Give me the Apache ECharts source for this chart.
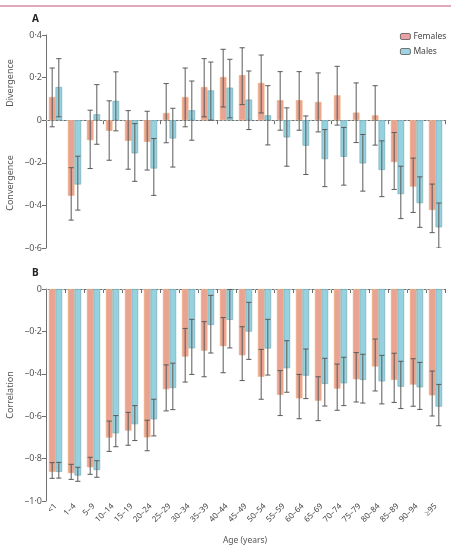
<!DOCTYPE html>
<html><head><meta charset="utf-8">
<script src="https://cdn.jsdelivr.net/npm/echarts@6/dist/echarts.min.js"></script>
<style>html,body{margin:0;padding:0;background:#fff}#c{width:451px;height:548px}</style>
</head><body><div id="c"></div>
<script>
const categories = ['<1','1–4','5–9','10–14','15–19','20–24','25–29','30–34','35–39','40–44','45–49','50–54','55–59','60–64','65–69','70–74','75–79','80–84','85–89','90–94','≥95'];

// Panel A: divergence / convergence
const femA    = [0.109,-0.355,-0.094,-0.05,-0.097,-0.102,0.034,0.109,0.156,0.203,0.212,0.175,0.094,0.094,0.086,0.117,0.036,0.023,-0.197,-0.312,-0.422];
const femALo  = [-0.031,-0.469,-0.227,-0.188,-0.23,-0.234,-0.106,-0.031,0.016,0.062,0.073,0.034,-0.047,-0.047,-0.055,-0.023,-0.105,-0.117,-0.325,-0.433,-0.528];
const femAHi  = [0.245,-0.223,0.047,0.091,0.045,0.042,0.172,0.245,0.289,0.333,0.34,0.306,0.228,0.228,0.222,0.253,0.175,0.162,-0.058,-0.178,-0.3];
const malA    = [0.156,-0.302,0.028,0.091,-0.156,-0.227,-0.086,0.047,0.14,0.153,0.097,0.023,-0.081,-0.12,-0.183,-0.172,-0.203,-0.234,-0.347,-0.39,-0.503];
const malALo  = [0.016,-0.422,-0.113,-0.05,-0.287,-0.353,-0.22,-0.094,0,0.011,-0.044,-0.116,-0.216,-0.255,-0.312,-0.305,-0.333,-0.359,-0.462,-0.503,-0.6];
const malAHi  = [0.289,-0.169,0.167,0.227,-0.016,-0.086,0.056,0.184,0.273,0.286,0.231,0.162,0.058,0.02,-0.044,-0.034,-0.067,-0.097,-0.216,-0.266,-0.389];

// Panel B: correlation
const femB    = [-0.863,-0.869,-0.841,-0.701,-0.668,-0.70,-0.473,-0.319,-0.291,-0.27,-0.313,-0.414,-0.50,-0.516,-0.527,-0.47,-0.426,-0.366,-0.429,-0.451,-0.502];
const femBLo  = [-0.893,-0.898,-0.874,-0.766,-0.737,-0.763,-0.575,-0.439,-0.414,-0.395,-0.432,-0.52,-0.597,-0.612,-0.621,-0.572,-0.533,-0.481,-0.535,-0.553,-0.599];
const femBHi  = [-0.819,-0.827,-0.794,-0.623,-0.582,-0.619,-0.358,-0.186,-0.154,-0.135,-0.178,-0.285,-0.385,-0.403,-0.414,-0.354,-0.30,-0.236,-0.303,-0.329,-0.387];
const malB    = [-0.863,-0.88,-0.854,-0.681,-0.638,-0.615,-0.467,-0.28,-0.17,-0.146,-0.201,-0.281,-0.374,-0.409,-0.448,-0.445,-0.429,-0.436,-0.461,-0.464,-0.555];
const malBLo  = [-0.892,-0.907,-0.888,-0.744,-0.715,-0.693,-0.569,-0.403,-0.302,-0.278,-0.332,-0.406,-0.487,-0.517,-0.552,-0.55,-0.538,-0.542,-0.564,-0.568,-0.645];
const malBHi  = [-0.818,-0.841,-0.81,-0.597,-0.55,-0.52,-0.35,-0.143,-0.03,-0.002,-0.063,-0.143,-0.244,-0.283,-0.327,-0.322,-0.308,-0.313,-0.341,-0.346,-0.45];

const FONT = 'Noto Sans';
const fmt = v => { const s = Math.abs(v) < 1e-9 ? '0' : v.toFixed(1).replace('.', '·').replace('-', '–'); return s; };

const femColor = '#e9a392', femBorder = '#efae84';
const malColor = '#96d1df', malBorder = '#7eb3bd';

function errSeries(name, xi, yi, lo, hi, sign) {
  return {
    type: 'custom', name: name, xAxisIndex: xi, yAxisIndex: yi, clip: true, z: 5, silent: true,
    data: lo.map((l, i) => [i, l, hi[i]]),
    renderItem: function (params, api) {
      const bw = api.size([1, 0])[0];
      const off = sign * bw * 0.175;
      const p1 = api.coord([api.value(0), api.value(1)]);
      const p2 = api.coord([api.value(0), api.value(2)]);
      const cx = p1[0] + off;
      const h = 2.6;
      const st = { stroke: '#5a5a5a', lineWidth: 1 };
      return { type: 'group', children: [
        { type: 'line', shape: { x1: cx, y1: p1[1], x2: cx, y2: p2[1] }, style: st },
        { type: 'line', shape: { x1: cx - h, y1: p1[1], x2: cx + h, y2: p1[1] }, style: st },
        { type: 'line', shape: { x1: cx - h, y1: p2[1], x2: cx + h, y2: p2[1] }, style: st }
      ]};
    }
  };
}

function barSeries(name, xi, yi, data, color, border, withLine) {
  const s = {
    type: 'bar', name: name, xAxisIndex: xi, yAxisIndex: yi, data: data,
    barWidth: '35%', barGap: '0%',
    itemStyle: { color: color, borderColor: border, borderWidth: 0.8 },
    silent: true
  };
  if (withLine) {
    s.markLine = { silent: true, symbol: 'none', label: { show: false },
      lineStyle: { color: '#a8b8b8', type: [2, 2], width: 1 }, data: [{ yAxis: 0 }], z: 1 };
  }
  return s;
}

const axisStyle = { lineStyle: { color: '#6f6f6f', width: 1 } };

const option = {
  animation: false,
  textStyle: { fontFamily: FONT },
  legend: {
    left: 400, top: 32, orient: 'vertical', itemWidth: 10, itemHeight: 6, itemGap: 6, padding: 0,
    textStyle: { fontFamily: FONT, fontSize: 8.5, color: '#444', padding: [0, 0, 0, -2] },
    data: [
      { name: 'Females', itemStyle: { color: '#eaa2a6', borderColor: '#555', borderWidth: 0.8 } },
      { name: 'Males', itemStyle: { color: '#9fd5e2', borderColor: '#555', borderWidth: 0.8 } }
    ]
  },
  grid: [
    { left: 46, top: 35, width: 399, height: 213 },
    { left: 46, top: 289, width: 399, height: 212 }
  ],
  xAxis: [
    { type: 'category', gridIndex: 0, data: categories, axisLine: axisStyle,
      axisTick: { show: true, length: 4, lineStyle: { color: '#6f6f6f' } }, axisLabel: { show: false } },
    { type: 'category', gridIndex: 1, data: categories, axisLine: axisStyle,
      axisTick: { show: true, length: 4, lineStyle: { color: '#6f6f6f' } },
      axisLabel: { rotate: 45, fontSize: 8, color: '#444', fontFamily: FONT, margin: 4, interval: 0 } }
  ],
  yAxis: [
    { type: 'value', gridIndex: 0, min: -0.6, max: 0.4, interval: 0.2, axisLine: { show: true, lineStyle: { color: '#6f6f6f' } },
      axisTick: { show: true, length: 4, lineStyle: { color: '#6f6f6f' } }, splitLine: { show: false },
      axisLabel: { fontSize: 9, color: '#555', margin: 4, formatter: fmt } },
    { type: 'value', gridIndex: 1, min: -1.0, max: 0, interval: 0.2, axisLine: { show: true, lineStyle: { color: '#6f6f6f' } },
      axisTick: { show: true, length: 4, lineStyle: { color: '#6f6f6f' } }, splitLine: { show: false },
      axisLabel: { fontSize: 9, color: '#555', margin: 4, formatter: fmt } }
  ],
  graphic: [
    { type: 'line', shape: { x1: 0, y1: 6, x2: 451, y2: 6 }, style: { stroke: '#d98aa2', lineWidth: 1.5 } },
    { type: 'text', left: 32, top: 14, style: { text: 'A', fontSize: 10, fontWeight: 'bold', fill: '#222', fontFamily: FONT } },
    { type: 'text', left: 32, top: 268, style: { text: 'B', fontSize: 10, fontWeight: 'bold', fill: '#222', fontFamily: FONT } },
    { type: 'text', x: 10, y: 83, rotation: Math.PI / 2, style: { text: 'Divergence', fontSize: 9, fill: '#555', fontFamily: FONT, align: 'center', verticalAlign: 'middle' } },
    { type: 'text', x: 10, y: 183, rotation: Math.PI / 2, style: { text: 'Convergence', fontSize: 9, fill: '#555', fontFamily: FONT, align: 'center', verticalAlign: 'middle' } },
    { type: 'text', x: 10, y: 395, rotation: Math.PI / 2, style: { text: 'Correlation', fontSize: 9, fill: '#555', fontFamily: FONT, align: 'center', verticalAlign: 'middle' } },
    { type: 'text', x: 245, y: 541, style: { text: 'Age (years)', fontSize: 8.5, fill: '#555', fontFamily: FONT, align: 'center', verticalAlign: 'middle' } }
  ],
  series: [
    barSeries('Females', 0, 0, femA, femColor, femBorder, true),
    barSeries('Males', 0, 0, malA, malColor, malBorder, false),
    errSeries('errFA', 0, 0, femALo, femAHi, -1),
    errSeries('errMA', 0, 0, malALo, malAHi, 1),
    barSeries('Females', 1, 1, femB, femColor, femBorder, true),
    barSeries('Males', 1, 1, malB, malColor, malBorder, false),
    errSeries('errFB', 1, 1, femBLo, femBHi, -1),
    errSeries('errMB', 1, 1, malBLo, malBHi, 1)
  ]
};
const chart = echarts.init(document.getElementById('c'), null, { renderer: 'canvas' });
chart.setOption(option);
</script></body></html>
